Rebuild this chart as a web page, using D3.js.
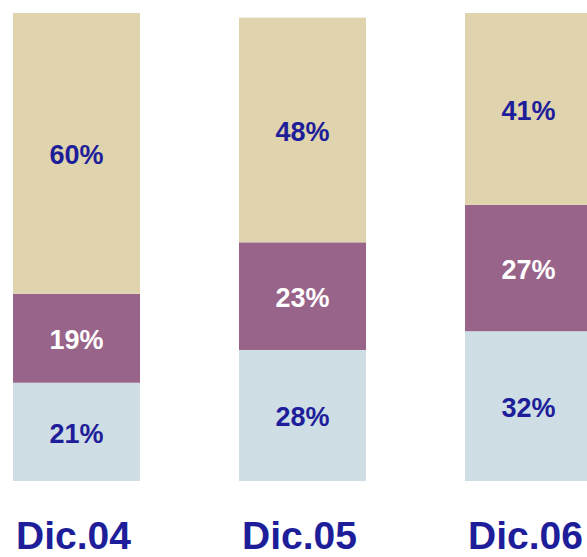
<!DOCTYPE html>
<html>
<head>
<meta charset="utf-8">
<script src="https://cdn.jsdelivr.net/npm/d3@7"></script>
<style>
  html, body { margin: 0; padding: 0; background: #ffffff; }
  svg { display: block; }
</style>
</head>
<body>
<svg id="chart" width="587" height="557"></svg>
<script>
// Period labels along the bottom
const periods = ["Dic.04", "Dic.05", "Dic.06"];
// Share of each group per period (percent), bottom to top
const bottomShare = [21, 28, 32];
const middleShare = [19, 23, 27];
const topShare = [60, 48, 41];

const seriesKeys = ["bottom", "middle", "top"];
const seriesFill = { bottom: "#CFDDE4", middle: "#996489", top: "#E0D4AE" };
const seriesText = { bottom: "#1E1E9A", middle: "#FFFFFF", top: "#1E1E9A" };

const rows = periods.map((p, i) => ({
  period: p,
  bottom: bottomShare[i],
  middle: middleShare[i],
  top: topShare[i]
}));

const svg = d3.select("#chart");

const x = d3.scaleBand()
  .domain(periods)
  .range([13, 592])
  .paddingInner(0.438)
  .paddingOuter(0);

const y = d3.scaleLinear()
  .domain([0, 100])
  .range([481, 13]);

const stacked = d3.stack().keys(seriesKeys)(rows);

const layers = svg.append("g")
  .selectAll("g")
  .data(stacked)
  .join("g")
  .attr("fill", d => seriesFill[d.key]);

layers.selectAll("rect")
  .data(d => d)
  .join("rect")
  .attr("x", d => x(d.data.period))
  .attr("width", x.bandwidth())
  .attr("y", d => y(d[1]))
  .attr("height", d => y(d[0]) - y(d[1]));

// Value labels centred in each segment
const labels = svg.append("g")
  .attr("font-family", "'Liberation Sans', Arial, sans-serif")
  .attr("font-weight", "bold")
  .attr("font-size", 27)
  .attr("text-anchor", "middle");

stacked.forEach(layer => {
  labels.selectAll(null)
    .data(layer)
    .join("text")
    .attr("x", d => x(d.data.period) + x.bandwidth() / 2)
    .attr("y", d => (y(d[0]) + y(d[1])) / 2 + 11)
    .attr("fill", seriesText[layer.key])
    .text(d => (d[1] - d[0]) + "%");
});

// Period labels under the bars
const xAxis = d3.axisBottom(x).tickSize(0).tickPadding(0);
const axisG = svg.append("g")
  .attr("transform", "translate(0,481)")
  .call(xAxis);
axisG.select(".domain").remove();
axisG.selectAll("text")
  .attr("dy", null)
  .attr("y", 68)
  .attr("dx", -3)
  .attr("font-family", "'Liberation Sans', Arial, sans-serif")
  .attr("font-weight", "bold")
  .attr("font-size", 39)
  .attr("fill", "#1E1E9A");
</script>
</body>
</html>
